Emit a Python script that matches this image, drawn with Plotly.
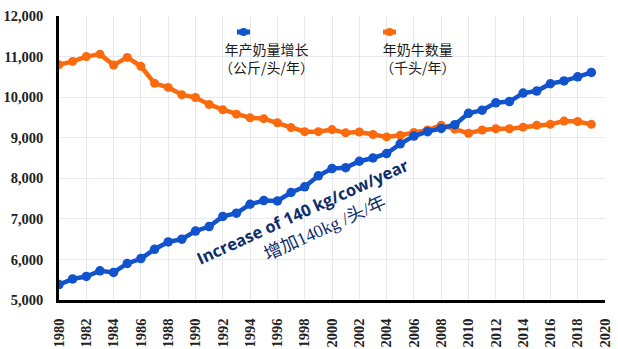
import plotly.graph_objects as go

years = list(range(1980, 2020))

milk_per_cow = [5380, 5520, 5580, 5720, 5680, 5900, 6020, 6250, 6430, 6500,
                6700, 6810, 7060, 7140, 7360, 7450, 7440, 7650, 7790, 8060,
                8240, 8260, 8420, 8500, 8610, 8850, 9040, 9150, 9230, 9320,
                9600, 9680, 9860, 9890, 10100, 10150, 10330, 10400, 10500, 10610]

cows = [10800, 10880, 11000, 11060, 10790, 10980, 10760, 10340, 10240, 10060,
        9990, 9820, 9690, 9580, 9490, 9470, 9370, 9250, 9150, 9150,
        9200, 9120, 9140, 9080, 9020, 9060, 9130, 9190, 9310, 9210,
        9110, 9190, 9220, 9220, 9260, 9310, 9330, 9410, 9400, 9330]

x_ticks = list(range(1980, 2021, 2))
y_ticks = [5000, 6000, 7000, 8000, 9000, 10000, 11000, 12000]
y_tick_text = ["5,000", "6,000", "7,000", "8,000", "9,000", "10,000", "11,000", "12,000"]

legend_milk = ["年产奶量增长", "（公斤/头/年）"]
legend_cows = ["年奶牛数量", "（千头/年）"]
note_en = "Increase of 140 kg/cow/year"
note_cn = "增加140kg /头/年"

BLUE = "#1153cc"
ORANGE = "#fb6a0c"
NAVY = "#0e2d6b"

fig = go.Figure()
fig.add_trace(go.Scatter(x=years, y=cows, mode="lines+markers",
                         line=dict(color=ORANGE, width=4.5),
                         marker=dict(color=ORANGE, size=9), showlegend=False))
fig.add_trace(go.Scatter(x=years, y=milk_per_cow, mode="lines+markers",
                         line=dict(color=BLUE, width=4.5),
                         marker=dict(color=BLUE, size=9.5), showlegend=False))

L, R, T, B = 59, 13, 16, 49
W, H = 618, 349
pw, ph = W - L - R, H - T - B

def px(x):
    return (x - L) / pw

def py(y):
    return (H - B - y) / ph

shapes = []
for (x0, x1, c) in [(237, 250, BLUE), (383, 396, ORANGE)]:
    shapes.append(dict(type="line", xref="paper", yref="paper",
                       x0=px(x0), x1=px(x1), y0=py(32), y1=py(32),
                       line=dict(color=c, width=5)))
    shapes.append(dict(type="circle", xref="paper", yref="paper",
                       x0=px((x0 + x1) / 2 - 4), x1=px((x0 + x1) / 2 + 4),
                       y0=py(36), y1=py(28), fillcolor=c, line=dict(width=0)))

cjk = "Noto Sans CJK SC"
annotations = []
for text, cx in [("<br>".join(legend_milk), 266), ("<br>".join(legend_cows), 418)]:
    annotations.append(dict(text=text, x=px(cx), y=py(58), xref="paper", yref="paper",
                            showarrow=False, xanchor="center", yanchor="middle",
                            font=dict(family=cjk, size=14, color="#1a1a1a")))
annotations.append(dict(text="<b>" + note_en + "</b>", x=px(302), y=py(211),
                        xref="paper", yref="paper", showarrow=False,
                        xanchor="center", yanchor="middle", textangle=-24.5,
                        font=dict(family="Open Sans", size=16.5, color=NAVY)))
annotations.append(dict(text=note_cn, x=px(325), y=py(228),
                        xref="paper", yref="paper", showarrow=False,
                        xanchor="center", yanchor="middle", textangle=-24.5,
                        font=dict(family="Liberation Serif, Noto Sans CJK SC", size=18, color=NAVY)))

fig.update_layout(
    width=W, height=H,
    margin=dict(l=L, r=R, t=T, b=B),
    paper_bgcolor="white", plot_bgcolor="white",
    shapes=shapes, annotations=annotations,
    xaxis=dict(range=[1980, 2020], tickvals=x_ticks,
               ticktext=["<b>%s</b>" % t for t in x_ticks],
               tickangle=-90, showgrid=True, gridcolor="#e8e8ef", gridwidth=1,
               showline=True, linecolor="black", linewidth=2.5, zeroline=False,
               ticks="", tickfont=dict(family="Liberation Serif", size=14.5, color="#222"),
               ticklabelstandoff=10, automargin=False),
    yaxis=dict(range=[5000, 12000], tickvals=y_ticks,
               ticktext=["<b>%s</b>" % t for t in y_tick_text],
               showgrid=True, gridcolor="#e8e8ef", gridwidth=1,
               showline=True, linecolor="black", linewidth=2.5, zeroline=False,
               ticks="", tickfont=dict(family="Liberation Serif", size=14.5, color="#222"),
               ticklabelstandoff=10, automargin=False),
)

fig.write_html("out.html")
